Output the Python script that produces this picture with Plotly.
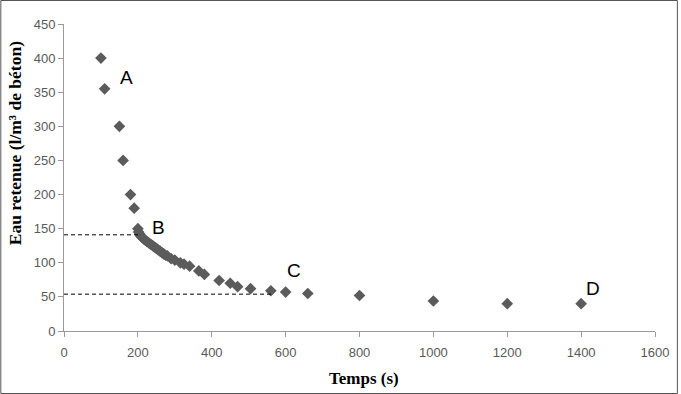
import plotly.graph_objects as go

# Data
temps = [100, 110, 150, 160, 180, 190, 200, 202, 205, 208, 212, 216, 220, 225, 230, 235,
         240, 245, 250, 255, 260, 265, 270, 275, 280, 290, 300, 315, 325, 340, 365, 380,
         420, 450, 470, 505, 560, 600, 660, 800, 1000, 1200, 1400]
eau = [400, 355, 300, 250, 200, 180, 150, 145, 142, 139, 137, 135, 133, 131, 129, 127,
       125, 123, 121, 119, 117, 115, 113, 111, 110, 106, 104, 100, 98, 95, 88, 83,
       74, 70, 65, 62, 59, 57, 55, 52, 44, 40, 40]

# Dashed guide lines: (x_end, y level)
guide_x_end = [200, 560]
guide_y = [141, 54]

# Point labels
label_text = ["A", "B", "C", "D"]
label_x = [170, 256, 622, 1432]
label_y = [372, 152, 89, 62]

x_ticks = [0, 200, 400, 600, 800, 1000, 1200, 1400, 1600]
y_ticks = [0, 50, 100, 150, 200, 250, 300, 350, 400, 450]

x_title = "<b>Temps (s)</b>"
y_title = "<b>Eau retenue (l/m³ de béton)</b>"

fig = go.Figure()
fig.add_trace(go.Scatter(
    x=temps, y=eau, mode="markers",
    marker=dict(symbol="diamond", size=9, color="#5b5b5b"),
    showlegend=False, hoverinfo="x+y"))

for xe, yv in zip(guide_x_end, guide_y):
    fig.add_shape(type="line", x0=0, x1=xe, y0=yv, y1=yv, xref="x", yref="y",
                  line=dict(color="black", width=1, dash="4px,3px"))

for t, xv, yv in zip(label_text, label_x, label_y):
    fig.add_annotation(x=xv, y=yv, text=t, showarrow=False,
                       font=dict(family="Liberation Sans, Arial", size=19, color="black"))

L, R, T, B = 64, 23, 24, 63
W, H = 681, 394
pw, ph = W - L - R, H - T - B


def px(xp):
    return (xp - L) / pw


def py(yp):
    return (T + ph - yp) / ph


# outer border of the chart
fig.add_shape(type="rect", xref="paper", yref="paper",
              x0=px(0.5), x1=px(W - 0.5), y0=py(H - 0.5), y1=py(0.5),
              line=dict(color="#555555", width=1))

serif = "Liberation Serif, Times New Roman"
fig.add_annotation(xref="paper", yref="paper", x=px(366), y=py(378), text=x_title,
                   xanchor="center", yanchor="middle",
                   showarrow=False, font=dict(family=serif, size=17, color="black"))
fig.add_annotation(xref="paper", yref="paper", x=px(15), y=py(143), text=y_title,
                   xanchor="center", yanchor="middle",
                   textangle=-90, showarrow=False,
                   font=dict(family=serif, size=17.5, color="black"))

fig.update_layout(
    width=W, height=H,
    margin=dict(l=L, r=R, t=T, b=B),
    paper_bgcolor="white", plot_bgcolor="white",
    font=dict(family="Liberation Sans, Arial", size=12, color="#595959"),
    xaxis=dict(range=[0, 1600], tickvals=x_ticks, showgrid=False, zeroline=False,
               showline=True, linecolor="#9a9a9a", linewidth=1,
               ticks="outside", ticklen=5, tickcolor="#9a9a9a", ticklabelstandoff=4,
               tickfont=dict(size=13, color="#595959")),
    yaxis=dict(range=[0, 450], tickvals=y_ticks, showgrid=False, zeroline=False,
               showline=True, linecolor="#9a9a9a", linewidth=1,
               ticks="outside", ticklen=5, tickcolor="#9a9a9a",
               tickfont=dict(size=13, color="#595959")),
)

fig.write_html("out.html")
